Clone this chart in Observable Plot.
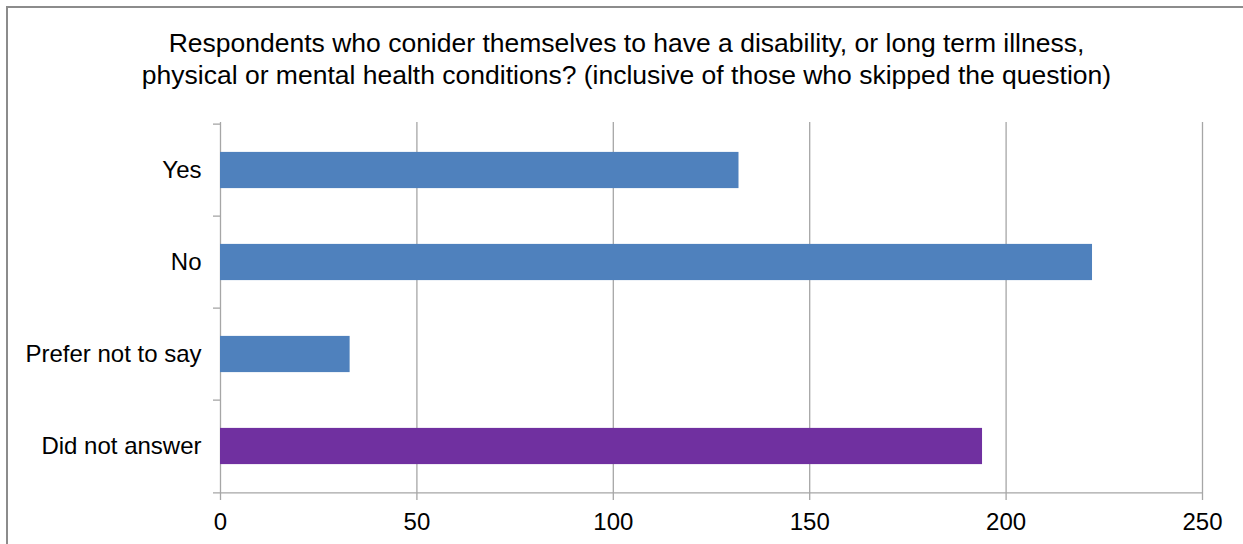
<!DOCTYPE html>
<html><head><meta charset="utf-8">
<script src="https://cdn.jsdelivr.net/npm/d3@7"></script>
<script src="https://cdn.jsdelivr.net/npm/@observablehq/plot@0.6"></script>
<style>
body{margin:0;background:#fff;font-family:"Liberation Sans",Arial,sans-serif;}
#wrap{position:relative;width:1243px;height:544px;overflow:hidden;}
#frame{position:absolute;left:6px;top:6px;width:1300px;height:600px;border-left:2px solid #8c8c8c;border-top:2px solid #8c8c8c;}
#title{position:absolute;left:5px;top:28px;width:1243px;text-align:center;font-size:26.5px;line-height:31.5px;color:#000;white-space:nowrap;}
#chart{position:absolute;left:0;top:100px;}
</style></head><body>
<div id="wrap"><div id="frame"></div><div id="title">Respondents who conider themselves to have a disability, or long term illness,<br>physical or mental health conditions? (inclusive of those who skipped the question)</div><div id="chart"></div></div>
<script>
const categories = ["Yes","No","Prefer not to say","Did not answer"];
const counts = [132,222,33,194];
const xTicks = [0,50,100,150,200,250];
const data = categories.map((c,i)=>({category:c,count:counts[i]}));
const W=1243,H=444,mt=22,mb=51,ml=220,mr=41;
const half = (H-mt-mb)/categories.length/2;
const last = categories[categories.length-1];
const plot = Plot.plot({
 width:W,height:H,marginTop:mt,marginBottom:mb,marginLeft:ml,marginRight:mr,
 style:{fontFamily:"Liberation Sans, Arial, sans-serif",fontSize:"24px",color:"#000",background:"transparent",overflow:"visible"},
 x:{domain:[0,250],ticks:xTicks},
 y:{domain:categories,padding:0},
 marks:[
  Plot.gridX(xTicks,{stroke:"#a6a6a6",strokeOpacity:1,strokeWidth:1.3}),
  Plot.ruleY(categories,{y:d=>d,x1:0,x2:0,insetLeft:-7,dy:-half,stroke:"#a6a6a6",strokeWidth:1.3}),
  Plot.ruleY([last],{y:d=>d,x1:0,x2:250,insetLeft:-7,dy:half,stroke:"#a6a6a6",strokeWidth:1.3}),
  Plot.barX(data,{x:"count",y:"category",fill:d=>d.category===last?"#7030a0":"#4f81bd",insetTop:27.9,insetBottom:27.9}),
  Plot.axisX(xTicks,{tickSize:7,stroke:"#a6a6a6",strokeWidth:1.3,tickPadding:12,label:null}),
  Plot.axisY({tickSize:0,tickPadding:19,label:null})
 ]
});
document.getElementById("chart").appendChild(plot);
</script></body></html>
